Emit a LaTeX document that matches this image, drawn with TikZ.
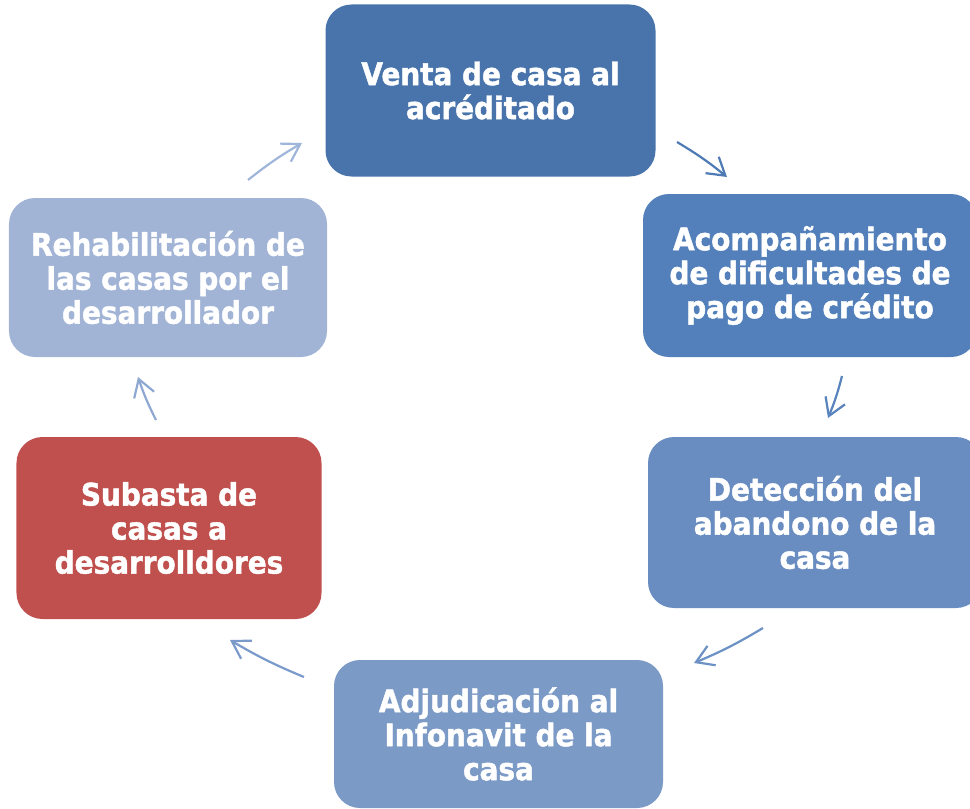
\documentclass[tikz,border=0pt]{standalone}
\usepackage{fontspec}
\setmainfont{DejaVu Sans}
\newfontfamily\boxfont{DejaVu Sans}[FakeStretch=0.9, BoldFeatures={FakeBold=1.5}]
\usetikzlibrary{arrows.meta}
\definecolor{cA}{HTML}{4874AB}
\definecolor{cB}{HTML}{5380BA}
\definecolor{cC}{HTML}{698DC1}
\definecolor{cD}{HTML}{7B9AC6}
\definecolor{cE}{HTML}{C0504D}
\definecolor{cF}{HTML}{A2B4D6}
\definecolor{aA}{HTML}{4F7BB5}
\definecolor{aB}{HTML}{5883BD}
\definecolor{aC}{HTML}{6C91C5}
\definecolor{aD}{HTML}{7A9ACB}
\definecolor{aE}{HTML}{8EA8D2}
\definecolor{aF}{HTML}{A0B5DA}
\tikzset{
  stagebox/.style={rectangle, rounded corners=26bp, inner sep=0pt, align=center,
    text=white, font=\boxfont\bfseries\fontsize{31bp}{34bp}\selectfont},
  cyc/.style={line width=2.2bp, -{Straight Barb[length=17bp,width=21bp,line width=2.2bp]}}
}
\begin{document}
\begin{tikzpicture}[x=1bp,y=-1bp]
\useasboundingbox (0,0) rectangle (970,809);
\clip (0,0) rectangle (970,809);
\node[stagebox, fill=cA, minimum width=330bp, minimum height=172bp] (b1) at (490.5,90.5) {Venta de casa al\\acréditado};
\node[stagebox, fill=cB, minimum width=334bp, minimum height=163bp] (b2) at (810,275.5) {Acompañamiento\\de dificultades de\\pago de crédito};
\node[stagebox, fill=cC, minimum width=334bp, minimum height=171bp] (b3) at (815,522.5) {Detección del\\abandono de la\\casa};
\node[stagebox, fill=cD, minimum width=329bp, minimum height=148bp] (b4) at (498.5,734) {Adjudicación al\\Infonavit de la\\casa};
\node[stagebox, fill=cE, minimum width=305bp, minimum height=182bp] (b5) at (169,528) {Subasta de\\casas a\\desarrolldores};
\node[stagebox, fill=cF, minimum width=318bp, minimum height=159bp] (b6) at (168,277.5) {Rehabilitación de\\las casas por el\\desarrollador};
\coordinate (s1) at (677,142); \coordinate (e1) at (727,177);
\coordinate (s2) at (842,376); \coordinate (e2) at (828,418);
\coordinate (s3) at (763,628); \coordinate (e3) at (694,663);
\coordinate (s4) at (304,677); \coordinate (e4) at (230,640);
\coordinate (s5) at (156,420); \coordinate (e5) at (138,377);
\coordinate (s6) at (248,180); \coordinate (e6) at (302,143);
\draw[cyc, aA] (s1) to[bend left=4] (e1);
\draw[cyc, aB] (s2) to[bend left=4] (e2);
\draw[cyc, aC] (s3) to[bend left=4] (e3);
\draw[cyc, aD] (s4) to[bend left=4] (e4);
\draw[cyc, aE] (s5) to[bend left=4] (e5);
\draw[cyc, aF] (s6) to[bend left=4] (e6);
\end{tikzpicture}
\end{document}
